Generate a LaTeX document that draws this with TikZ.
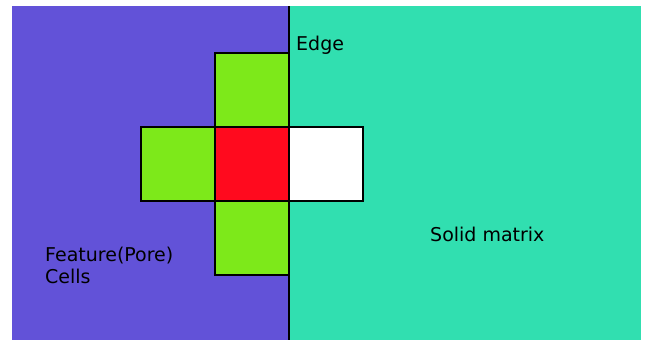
\documentclass[tikz,border=0pt]{standalone}
\usepackage{fontspec}
\setmainfont{DejaVu Sans}
\usetikzlibrary{positioning}
\definecolor{porecol}{HTML}{6252D8}
\definecolor{solidcol}{HTML}{31DFB0}
\definecolor{nbcol}{HTML}{7DE91A}
\definecolor{centrecol}{HTML}{FF0A1E}

\tikzset{
  cell/.style={draw=black, line width=2pt, minimum size=74pt, inner sep=0pt, outer sep=0pt},
  lbl/.style={anchor=base west, inner sep=0pt, font=\fontsize{19}{22}\selectfont}
}

\begin{document}
\begin{tikzpicture}[x=1pt,y=-1pt]
    \useasboundingbox (0,0) rectangle (646,340);
    % the two regions
    \fill[porecol] (12,6) rectangle (289,340);
    \fill[solidcol] (289,6) rectangle (641,340);
    % cell and its neighbours
    \node[cell,fill=centrecol] (centre) at (252,164) {};
    \node[cell,fill=nbcol,above=0pt of centre] (up) {};
    \node[cell,fill=nbcol,below=0pt of centre] (down) {};
    \node[cell,fill=nbcol,left=0pt of centre] (west) {};
    \node[cell,fill=white,right=0pt of centre] (east) {};
    % edge between pore and matrix
    \coordinate (edgetop) at (289,6);
    \coordinate (edgebot) at (289,340);
    \draw[line width=2.8pt] (edgetop) -- (edgebot);
    % labels
    \node[lbl] (edgelbl) at (296,50) {Edge};
    \node[lbl] (solidlbl) at (430,241) {Solid matrix};
    \node[lbl] (porelbl) at (45,261) {Feature(Pore)};
    \node[lbl] (celllbl) at (45,283) {Cells};
\end{tikzpicture}
\end{document}
